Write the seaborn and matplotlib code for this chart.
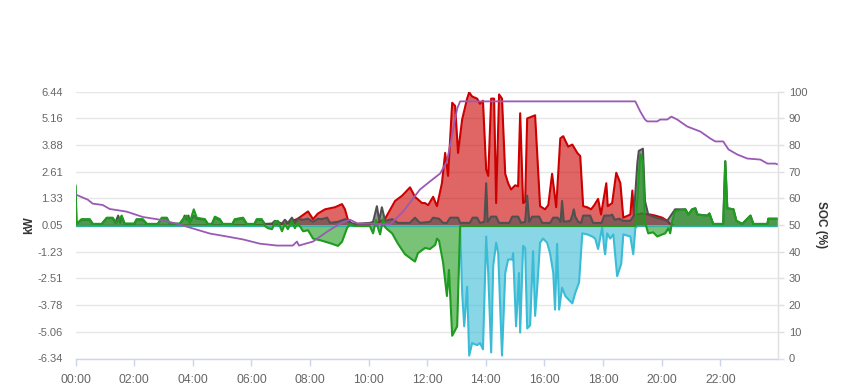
import matplotlib
matplotlib.use("Agg")
import matplotlib.pyplot as plt
import seaborn as sns
import numpy as np
import pandas as pd

# ---------------- data (hours of day, kW / %) ----------------
solar_t = [0, 6.35, 7.0, 7.24, 7.58, 7.93, 8.10, 8.27, 8.51, 8.85, 9.09, 9.19, 9.29, 9.43,
           10.22, 10.56, 10.90, 11.14, 11.41, 11.58, 11.82, 11.92, 12.03, 12.20, 12.33,
           12.50, 12.61, 12.71, 12.85, 12.95, 13.05, 13.19, 13.36, 13.43, 13.53, 13.70,
           13.80, 13.90, 14.01, 14.08, 14.18, 14.28, 14.35, 14.45, 14.55, 14.66, 14.76,
           14.86, 15.00, 15.10, 15.17, 15.27, 15.34, 15.41, 15.68, 15.85, 16.02, 16.13,
           16.26, 16.40, 16.54, 16.64, 16.81, 16.95, 17.12, 17.22, 17.32, 17.46, 17.59,
           17.70, 17.83, 17.93, 18.11, 18.16, 18.31, 18.45, 18.59, 18.69, 18.93, 19.00,
           19.05, 19.30, 19.61, 19.78, 20.02, 20.19, 20.29, 20.45, 23.95]
solar_kw = [0, 0.05, 0.08, 0.15, 0.35, 0.7, 0.33, 0.6, 0.8, 0.9, 1.05, 0.8, 0.3, 0.1,
            0.1, 0.35, 1.2, 1.45, 1.85, 1.4, 1.1, 1.1, 1.0, 1.4, 0.95,
            2.05, 3.5, 2.4, 5.9, 5.75, 3.5, 5.1, 6.1, 6.4, 6.2, 6.1,
            5.85, 6.0, 2.7, 2.4, 6.1, 6.1, 1.1, 6.3, 6.1, 2.5, 2.05,
            1.75, 1.95, 1.9, 5.4, 1.1, 1.15, 5.15, 5.3, 0.95, 0.8, 1.0,
            2.5, 0.9, 4.2, 4.3, 3.8, 3.9, 3.5, 3.35, 0.95, 0.9, 0.8,
            1.0, 1.3, 0.55, 2.05, 0.95, 1.1, 2.55, 2.05, 0.4, 0.55, 1.7,
            0.5, 0.6, 0.55, 0.5, 0.4, 0.25, 0.1, 0, 0]

house_t = [0, 0.03, 0.2, 0.48, 0.58, 0.89, 1.06, 1.26, 1.35, 1.45, 1.52, 1.57, 1.67, 2.0,
           2.08, 2.29, 2.43, 2.80, 2.94, 3.11, 3.21, 3.55, 3.66, 3.72, 3.79, 3.85, 3.89,
           4.03, 4.13, 4.41, 4.51, 4.65, 4.75, 4.92, 5.02, 5.35, 5.43, 5.71, 5.84, 6.1,
           6.18, 6.35, 6.46, 6.7, 6.80, 6.90, 7.04, 7.14, 7.24, 7.38, 7.48, 7.58, 7.76,
           7.93, 8.10, 8.27, 8.40, 8.58, 8.68, 8.95, 9.19, 9.36, 9.53, 10.04, 10.15,
           10.28, 10.36, 10.45, 10.56, 10.80, 11.00, 11.40, 11.58, 11.75, 12.09, 12.20,
           12.40, 12.54, 12.67, 12.78, 13.05, 13.12, 13.45, 13.55, 13.70, 13.80, 13.95,
           14.01, 14.06, 14.18, 14.35, 14.45, 14.80, 14.90, 15.10, 15.20, 15.34, 15.41,
           15.48, 15.58, 15.82, 15.92, 16.19, 16.30, 16.45, 16.55, 16.60, 16.66, 16.88,
           16.95, 17.00, 17.05, 17.15, 17.25, 17.32, 17.56, 17.66, 17.95, 18.04, 18.24,
           18.31, 18.40, 18.55, 18.69, 18.93, 19.05, 19.17, 19.22, 19.36, 19.43, 19.54,
           19.71, 19.95, 20.19, 20.36, 20.46, 20.81, 20.91, 21.04, 21.15, 21.22, 21.56,
           21.63, 21.76, 22.10, 22.17, 22.24, 22.45, 22.55, 22.75, 23.03, 23.13, 23.61,
           23.64, 23.95]
house_kw = [1.2, 0.1, 0.3, 0.3, 0.1, 0.1, 0.38, 0.38, 0.15, 0.5, 0.15, 0.45, 0.1, 0.1,
            0.3, 0.3, 0.1, 0.1, 0.38, 0.38, 0.1, 0.1, 0.3, 0.5, 0.3, 0.5, 0.15,
            0.5, 0.35, 0.3, 0.1, 0.1, 0.4, 0.3, 0.1, 0.1, 0.3, 0.38, 0.1, 0.1,
            0.3, 0.3, 0.1, 0.12, 0.25, 0.2, 0.12, 0.3, 0.15, 0.4, 0.15, 0.35, 0.3,
            0.35, 0.2, 0.35, 0.33, 0.4, 0.15, 0.2, 0.33, 0.15, 0.1, 0.15, 0.2,
            0.95, 0.25, 0.9, 0.25, 0.33, 0.15, 0.15, 0.4, 0.15, 0.2, 0.4,
            0.35, 0.15, 0.15, 0.4, 0.4, 0.15, 0.15, 0.4, 0.4, 0.15, 0.2,
            2.05, 0.2, 0.45, 0.45, 0.15, 0.15, 0.45, 0.45, 0.15, 0.2, 1.45,
            0.2, 0.45, 0.45, 0.15, 0.15, 0.4, 0.4, 0.2, 1.2, 0.2, 0.25,
            0.5, 0.8, 0.45, 0.2, 0.15, 0.5, 0.5, 0.15, 0.15, 0.5, 0.5,
            0.55, 0.3, 0.35, 0.25, 0.25, 0.5, 3.0, 3.6, 3.7, 1.2, 0.55,
            0.45, 0.35, 0.25, 0.6, 0.8, 0.8, 0.55, 0.8, 0.85, 0.55, 0.5,
            0.6, 0.1, 0.1, 3.1, 0.85, 0.8, 0.25, 0.1, 0.5, 0.1, 0.1,
            0.35, 0.35]

battery_t = [0, 0.03, 0.2, 0.48, 0.58, 0.89, 1.06, 1.26, 1.40, 1.57, 1.67, 2.0, 2.08,
             2.29, 2.43, 2.80, 2.94, 3.11, 3.21, 3.55, 3.66, 3.79, 3.89, 4.03, 4.13,
             4.41, 4.51, 4.65, 4.75, 4.92, 5.02, 5.35, 5.43, 5.71, 5.84, 6.1, 6.18,
             6.35, 6.46, 6.56, 6.70, 6.80, 6.90, 7.04, 7.14, 7.24, 7.38, 7.48, 7.58,
             7.76, 7.93, 8.10, 8.40, 8.75, 8.95, 9.09, 9.26, 9.36, 9.53, 10.04, 10.15,
             10.25, 10.32, 10.39, 10.49, 10.56, 10.63, 10.80, 11.00, 11.24, 11.48, 11.58,
             11.68, 11.92, 12.09, 12.27, 12.33, 12.40, 12.54, 12.67, 12.74, 12.85, 13.02,
             13.12, 19.10, 19.17, 19.27, 19.36, 19.43, 19.54, 19.71, 19.85, 20.02, 20.12,
             20.23, 20.29, 20.36, 20.46, 20.81, 20.91, 21.04, 21.15, 21.22, 21.56, 21.63,
             21.76, 22.10, 22.17, 22.24, 22.45, 22.55, 22.75, 23.03, 23.13, 23.61, 23.64,
             23.95]
battery_kw = [1.95, 0.1, 0.33, 0.33, 0.1, 0.1, 0.4, 0.4, 0.15, 0.5, 0.12, 0.12, 0.33,
              0.33, 0.1, 0.1, 0.4, 0.4, 0.12, 0.12, 0.33, 0.5, 0.15, 0.8, 0.4,
              0.33, 0.1, 0.1, 0.45, 0.33, 0.1, 0.1, 0.33, 0.4, 0.1, 0.1, 0.33,
              0.33, 0.0, -0.1, -0.15, 0.2, 0.25, -0.25, 0.1, -0.15, 0.25, -0.1, 0.15,
              -0.25, -0.2, -0.6, -0.7, -0.85, -0.95, -0.75, -0.1, 0.1, 0.0, 0.0, -0.35,
              0.3, -0.1, -0.4, 0.35, -0.05, -0.15, -0.35, -0.85, -1.35, -1.6, -1.7,
              -1.3, -1.05, -1.1, -0.9, -0.6, -0.7, -1.75, -3.35, -2.1, -5.25, -4.8,
              0.0, 0.0, 1.3, 3.45, 3.1, 0.2, -0.35, -0.3, -0.5, -0.4, -0.35,
              -0.1, -0.35, 0.25, 0.72, 0.8, 0.55, 0.8, 0.85, 0.55, 0.5, 0.6,
              0.1, 0.1, 3.1, 0.85, 0.8, 0.25, 0.1, 0.5, 0.1, 0.1, 0.35,
              0.35]

grid_t = [0, 13.12, 13.19, 13.26, 13.36, 13.43, 13.53, 13.70, 13.80, 13.90, 14.01, 14.08,
          14.18, 14.25, 14.35, 14.42, 14.55, 14.66, 14.76, 14.90, 14.93, 15.03, 15.13,
          15.17, 15.27, 15.34, 15.41, 15.51, 15.61, 15.68, 15.75, 15.85, 15.95, 16.09,
          16.19, 16.30, 16.36, 16.43, 16.50, 16.60, 16.71, 16.81, 16.95, 17.05, 17.18,
          17.29, 17.46, 17.63, 17.73, 17.83, 17.97, 18.04, 18.07, 18.14, 18.24, 18.35,
          18.48, 18.62, 18.69, 18.93, 19.03, 19.10, 19.17, 23.95]
grid_kw = [0, 0, -3.2, -4.8, -2.9, -6.2, -5.6, -5.7, -5.6, -5.9, -0.5, -2.25,
           -6.05, -1.9, -0.8, -1.3, -6.2, -2.25, -1.6, -1.6, -1.3, -4.8, -2.25,
           -5.1, -0.95, -1.05, -4.9, -4.75, -1.2, -4.3, -3.0, -0.8, -0.6, -0.8,
           -1.3, -2.25, -4.0, -0.85, -4.0, -2.95, -3.35, -3.5, -3.7, -3.2, -2.7,
           -0.35, -0.4, -0.5, -0.6, -1.1, -0.05, -1.1, -1.35, -0.35, -0.6, -0.4,
           -2.4, -1.8, -0.4, -0.5, -1.35, -0.1, 0, 0]

soc_t = [0, 0.41, 0.58, 0.92, 1.16, 1.74, 2.29, 2.87, 3.45, 4.00, 4.58, 5.16, 5.71,
         6.29, 6.87, 7.41, 7.55, 7.62, 8.10, 8.58, 9.02, 9.36, 9.63, 10.04, 10.73,
         11.17, 11.75, 12.09, 12.44, 12.67, 12.85, 13.02, 13.12, 19.10, 19.27, 19.43,
         19.51, 19.85, 19.95, 20.19, 20.33, 20.53, 20.87, 21.32, 21.66, 21.83, 22.10,
         22.28, 22.58, 22.92, 23.37, 23.61, 23.88, 23.95]
soc_pct = [61.4, 59.5, 58.0, 57.5, 56.0, 55.0, 53.0, 52.0, 50.5, 48.7, 46.8, 45.7, 44.6,
           43.0, 42.3, 42.3, 43.8, 42.3, 43.8, 47.5, 50.5, 52.0, 50.5, 50.5, 50.2,
           55.0, 63.3, 66.3, 69.3, 73.8, 83.9, 93.6, 96.3, 96.3, 92.5, 89.5,
           88.8, 88.8, 89.5, 89.5, 90.6, 89.5, 86.9, 85.0, 82.4, 81.3, 81.3,
           78.3, 76.4, 74.9, 74.5, 73.0, 73.0, 72.7]

kw_ticks = [-6.34, -5.06, -3.78, -2.51, -1.23, 0.05, 1.33, 2.61, 3.88, 5.16, 6.44]
soc_ticks = [0, 10, 20, 30, 40, 50, 60, 70, 80, 90, 100]
hour_ticks = [0, 2, 4, 6, 8, 10, 12, 14, 16, 18, 20, 22]
hour_labels = ["00:00", "02:00", "04:00", "06:00", "08:00", "10:00", "12:00",
               "14:00", "16:00", "18:00", "20:00", "22:00"]

# ---------------- styling ----------------
sns.set_theme(style="white")
plt.rcParams['font.family'] = ['Liberation Sans', 'DejaVu Sans']

RED, GRAY, GREEN, CYAN, PURPLE = "#cc0000", "#505050", "#1f9c1f", "#3bbcd6", "#9b59b6"

fig = plt.figure(figsize=(8.49, 3.9), dpi=100)
ax = fig.add_axes([75.7 / 849, (390 - 358.5) / 390, 702 / 849, 267 / 390])
ax2 = ax.twinx()

series = [
    (solar_t, solar_kw, RED),
    (house_t, house_kw, GRAY),
    (grid_t, grid_kw, CYAN),
    (battery_t, battery_kw, GREEN),
]
for i, (t, v, lc) in enumerate(series):
    df = pd.DataFrame({"hour": t, "kW": v})
    ax.fill_between(df["hour"], df["kW"], 0, color=lc, alpha=0.6, linewidth=0, zorder=2 + i)
    sns.lineplot(data=df, x="hour", y="kW", ax=ax, color=lc, linewidth=1.5,
                 zorder=2.5 + i, estimator=None, sort=False)

soc_df = pd.DataFrame({"hour": soc_t, "SOC": soc_pct})
sns.lineplot(data=soc_df, x="hour", y="SOC", ax=ax2, color=PURPLE, linewidth=1.3,
             estimator=None, sort=False)

ax.set_xlim(0, 23.96)
ax.set_ylim(kw_ticks[0], kw_ticks[-1])
ax2.set_ylim(soc_ticks[0], soc_ticks[-1])

ax.set_yticks(kw_ticks)
ax.set_yticklabels([f"{v:.2f}" for v in kw_ticks])
ax2.set_yticks(soc_ticks)
ax2.set_yticklabels([str(v) for v in soc_ticks])
ax.set_xticks(hour_ticks)
ax.set_xticklabels(hour_labels)

ax.grid(axis="y", color="#e6e6e6", linewidth=1.0, zorder=0)
ax.set_axisbelow(True)
ax.grid(axis="x", visible=False)
ax2.grid(False)

for a_ in (ax, ax2):
    for s in a_.spines.values():
        s.set_visible(False)
ax.spines["bottom"].set_visible(True)
ax.spines["bottom"].set_color("#ccd6eb")
ax.spines["bottom"].set_linewidth(1.0)
ax2.spines["right"].set_visible(True)
ax2.spines["right"].set_color("#e0e0e0")
ax2.spines["right"].set_linewidth(1.0)

ax.tick_params(axis="y", length=0, pad=9, labelsize=8, labelcolor="#666666")
ax.tick_params(axis="x", length=5, width=1, color="#ccd6eb", pad=6, labelsize=8.7,
               labelcolor="#666666", bottom=True)
ax2.tick_params(axis="y", length=4, width=1, color="#e0e0e0", pad=4, labelsize=8,
                labelcolor="#666666", right=True)

ax.set_xlabel("")
ax.set_ylabel("kW", fontsize=8.5, fontweight="bold", color="#333333", labelpad=2)
ax2.set_ylabel("SOC (%)", fontsize=8.5, fontweight="bold", color="#333333",
               rotation=270, labelpad=14)

fig.savefig("out.png", dpi=100, facecolor="white")
